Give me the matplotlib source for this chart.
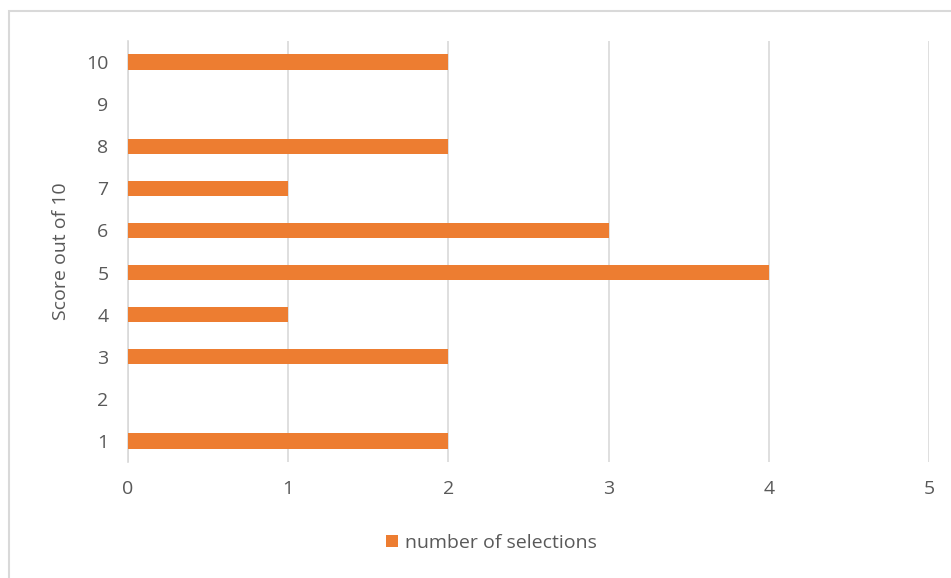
import matplotlib.pyplot as plt
from matplotlib.patches import Rectangle

scores = [1, 2, 3, 4, 5, 6, 7, 8, 9, 10]
selections = [2, 0, 2, 1, 4, 3, 1, 2, 0, 2]

orange = '#ED7D31'
grey_text = '#595959'
grid_c = '#D9D9D9'

plt.rcParams['font.family'] = ['Open Sans', 'DejaVu Sans']
fs = 14

fig = plt.figure(figsize=(9.51, 5.78), dpi=100)
ax = fig.add_axes([0.1346, 0.2007, 0.8423, 0.7284])

bars = ax.barh(scores, selections, height=0.36, color=orange, label='number of selections', zorder=3)

ax.set_xlim(0, 5)
ax.set_ylim(0.5, 10.5)
ax.set_xticks(range(0, 6))
ax.set_yticks(scores)
ax.tick_params(axis='both', length=0, labelsize=fs, colors=grey_text)
ax.tick_params(axis='y', pad=14)
ax.tick_params(axis='x', pad=13)
ax.grid(axis='x', color=grid_c, lw=1.2, zorder=0)
for s in ['top', 'right', 'bottom']:
    ax.spines[s].set_visible(False)
ax.spines['left'].set_color(grid_c)
ax.spines['left'].set_linewidth(1.2)

ax.set_ylabel('Score out of 10', fontsize=fs, color=grey_text)
ax.yaxis.set_label_coords(-0.072, 0.5)

ax.legend(loc='center', bbox_to_anchor=(0.454, -0.192), frameon=False,
          fontsize=fs, labelcolor=grey_text, handlelength=0.6, handleheight=0.6,
          handletextpad=0.4)

# chart frame, clipped at right and bottom
fig.patches.append(Rectangle((8.5 / 951, -0.05), 1.2, 1 - 11 / 578 + 0.05,
                             transform=fig.transFigure, fill=False,
                             edgecolor=grid_c, lw=1.5))

fig.savefig('out.png', dpi=100)
